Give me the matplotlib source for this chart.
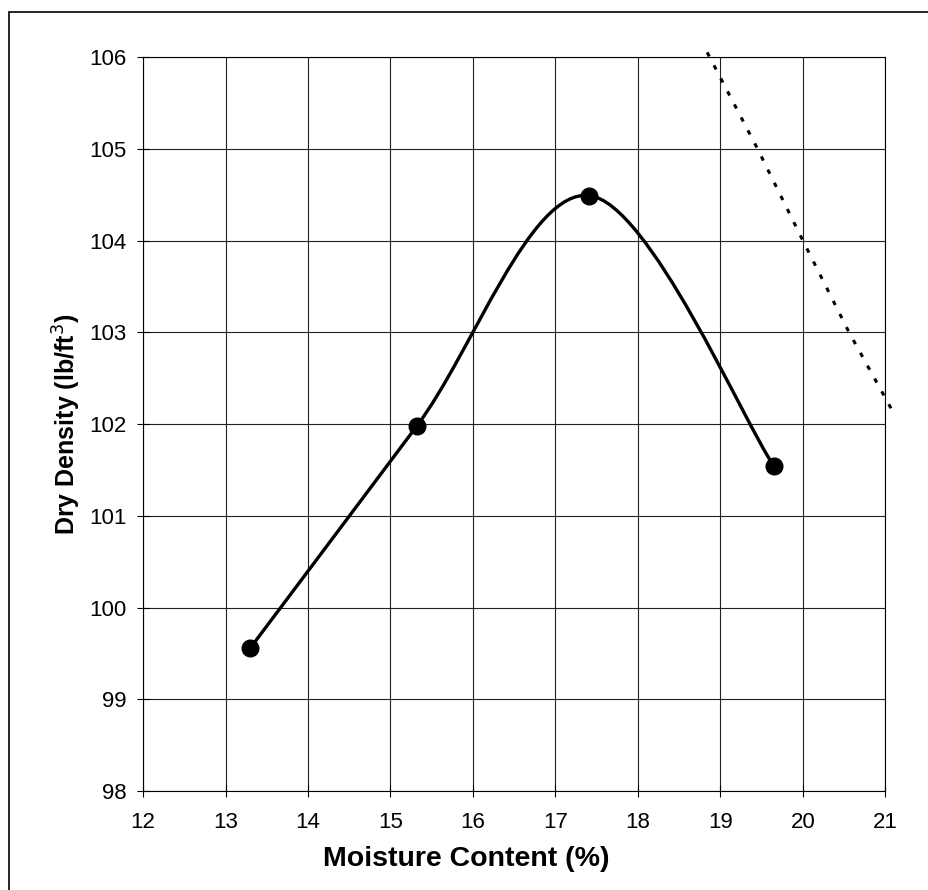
import matplotlib
matplotlib.use("Agg")
import matplotlib.pyplot as plt
from matplotlib.path import Path
from matplotlib.patches import PathPatch, Rectangle

plt.rcParams['font.family'] = ['Liberation Sans', 'DejaVu Sans']

# compaction test points
moisture = [13.3, 15.32, 17.41, 19.65]
density = [99.56, 101.98, 104.49, 101.54]

# zero air voids line
zav_moisture = [18.84, 19.45, 20.0, 20.56, 21.07]
zav_density = [106.05, 105.0, 104.0, 103.0, 102.17]

x_ticks = list(range(12, 22))
y_ticks = list(range(98, 107))


def smooth_path(xs, ys):
    # excel style smoothed line: cubic bezier with catmull-rom control points
    pts = list(zip(xs, ys))
    verts = [pts[0]]
    codes = [Path.MOVETO]
    n = len(pts)
    for i in range(n - 1):
        p0 = pts[max(i - 1, 0)]
        p1 = pts[i]
        p2 = pts[i + 1]
        p3 = pts[min(i + 2, n - 1)]
        c1 = (p1[0] + (p2[0] - p0[0]) / 6, p1[1] + (p2[1] - p0[1]) / 6)
        c2 = (p2[0] - (p3[0] - p1[0]) / 6, p2[1] - (p3[1] - p1[1]) / 6)
        verts += [c1, c2, p2]
        codes += [Path.CURVE4] * 3
    return Path(verts, codes)


fig = plt.figure(figsize=(9.29, 8.9), dpi=100)
ax = fig.add_axes([0.154, 0.111, 0.799, 0.825])

ax.add_patch(PathPatch(smooth_path(moisture, density), fill=False, lw=2.4,
                       color='black', zorder=3))
ax.plot(moisture, density, 'o', color='black', markersize=12, zorder=4)
ax.plot(zav_moisture, zav_density, color='black', lw=2.2, linestyle=(0, (1.5, 3.3)),
        clip_on=False, zorder=3)

ax.set_xlim(12, 21)
ax.set_ylim(98, 106)
ax.set_xticks(x_ticks)
ax.set_yticks(y_ticks)
ax.grid(True, color='#222222', lw=0.8)
ax.tick_params(direction='inout', length=8, width=0.8, labelsize=16)
ax.tick_params(axis='x', pad=11)
ax.tick_params(axis='y', pad=8)
for s in ax.spines.values():
    s.set_linewidth(0.8)

# excel centres the x title on the whole chart area, not the plot area
ax.set_xlabel('Moisture Content (%)', fontsize=20.5, fontweight='bold')
ax.xaxis.set_label_coords(0.435, -0.074)
ax.set_ylabel('Dry Density (lb/ft$^3$)', fontsize=18, fontweight='bold', labelpad=4)

# outer chart border
fig.patches.append(Rectangle((9 / 929, -0.01), 1.0, 1 - 12 / 890 + 0.01,
                             transform=fig.transFigure, fill=False,
                             lw=1.2, color='black'))

fig.savefig('out.png', dpi=100)
